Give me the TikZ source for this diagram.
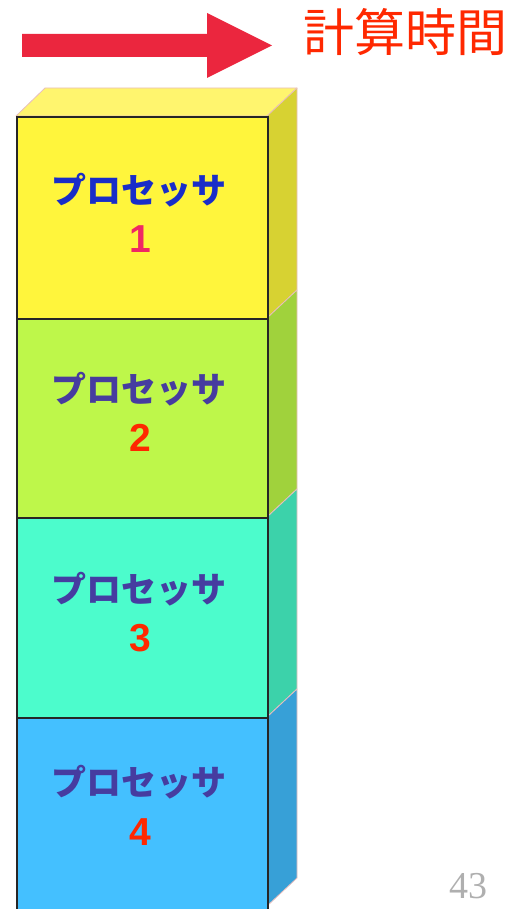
\documentclass[tikz,border=0pt]{standalone}
\usepackage{fontspec}
\setmainfont{Liberation Sans}
\newfontfamily\jpfont{Noto Sans CJK JP}
\newfontfamily\numfont{Liberation Sans}
\newfontfamily\pgnumfont{Liberation Serif}
\definecolor{arrowred}{RGB}{235,38,62}
\definecolor{titlered}{RGB}{255,40,0}
\definecolor{edgepink}{RGB}{232,190,190}
\definecolor{topyellow}{RGB}{255,245,110}
\definecolor{frontA}{RGB}{255,245,60}
\definecolor{sideA}{RGB}{215,210,50}
\definecolor{frontB}{RGB}{190,247,74}
\definecolor{sideB}{RGB}{160,210,60}
\definecolor{frontC}{RGB}{76,252,204}
\definecolor{sideC}{RGB}{60,210,170}
\definecolor{frontD}{RGB}{68,192,255}
\definecolor{sideD}{RGB}{55,160,215}
\definecolor{procblue}{RGB}{25,45,200}
\definecolor{procpurple}{RGB}{70,60,160}
\definecolor{numpink}{RGB}{240,40,100}
\definecolor{numred}{RGB}{255,40,0}
\definecolor{pggrey}{RGB}{175,175,175}
\tikzset{
  sideface/.style={draw=edgepink, line width=0.8pt, line join=round},
  frontface/.style={draw=black!85, line width=1.8pt},
  proclabel/.style={font=\jpfont\bfseries\fontsize{35}{40}\selectfont, inner sep=0pt},
  numlabel/.style={font=\numfont\bfseries\fontsize{39}{42}\selectfont, inner sep=0pt},
}
\begin{document}
\begin{tikzpicture}[x=1pt,y=-1pt]
\useasboundingbox (0,0) rectangle (516,909);
% arrow
\fill[arrowred] (22,34) -- (207,34) -- (207,13) -- (272,45.5) -- (207,78) -- (207,57) -- (22,57) -- cycle;
\node[font=\jpfont\fontsize{51}{55}\selectfont, text=titlered, inner sep=0pt] (title) at (405,32) {計算時間};
% top face
\filldraw[sideface, fill=topyellow] (16,116) -- (45,88) -- (297,88) -- (267,116) -- cycle;
% boxes: sides
\filldraw[sideface, fill=sideA] (267,116) -- (297,88) -- (297,290) -- (267,318) -- cycle;
\filldraw[sideface, fill=sideB] (267,318) -- (297,290) -- (297,489) -- (267,517) -- cycle;
\filldraw[sideface, fill=sideC] (267,517) -- (297,489) -- (297,689) -- (267,717) -- cycle;
\filldraw[sideface, fill=sideD] (267,717) -- (297,689) -- (297,878) -- (267,906) -- cycle;
% fronts
\node[frontface, fill=frontA, anchor=north west, minimum width=251pt, minimum height=202pt, inner sep=0pt] (p1) at (16,116) {};
\node[frontface, fill=frontB, anchor=north west, minimum width=251pt, minimum height=199pt, inner sep=0pt] (p2) at (16,318) {};
\node[frontface, fill=frontC, anchor=north west, minimum width=251pt, minimum height=200pt, inner sep=0pt] (p3) at (16,517) {};
\node[frontface, fill=frontD, anchor=north west, minimum width=251pt, minimum height=200pt, inner sep=0pt] (p4) at (16,717) {};
% labels
\node[proclabel, text=procblue] (l1) at (139,190) {プロセッサ};
\node[numlabel, text=numpink] (n1) at (140,239) {1};
\node[proclabel, text=procpurple] (l2) at (139,389) {プロセッサ};
\node[numlabel, text=numred] (n2) at (140,438) {2};
\node[proclabel, text=procpurple] (l3) at (139,589) {プロセッサ};
\node[numlabel, text=numred] (n3) at (140,638) {3};
\node[proclabel, text=procpurple] (l4) at (139,782) {プロセッサ};
\node[numlabel, text=numred] (n4) at (140,832) {4};
% page number
\node[font=\pgnumfont\fontsize{38}{42}\selectfont, text=pggrey, anchor=base, inner sep=0pt] (pg) at (468,898) {43};
\end{tikzpicture}
\end{document}
